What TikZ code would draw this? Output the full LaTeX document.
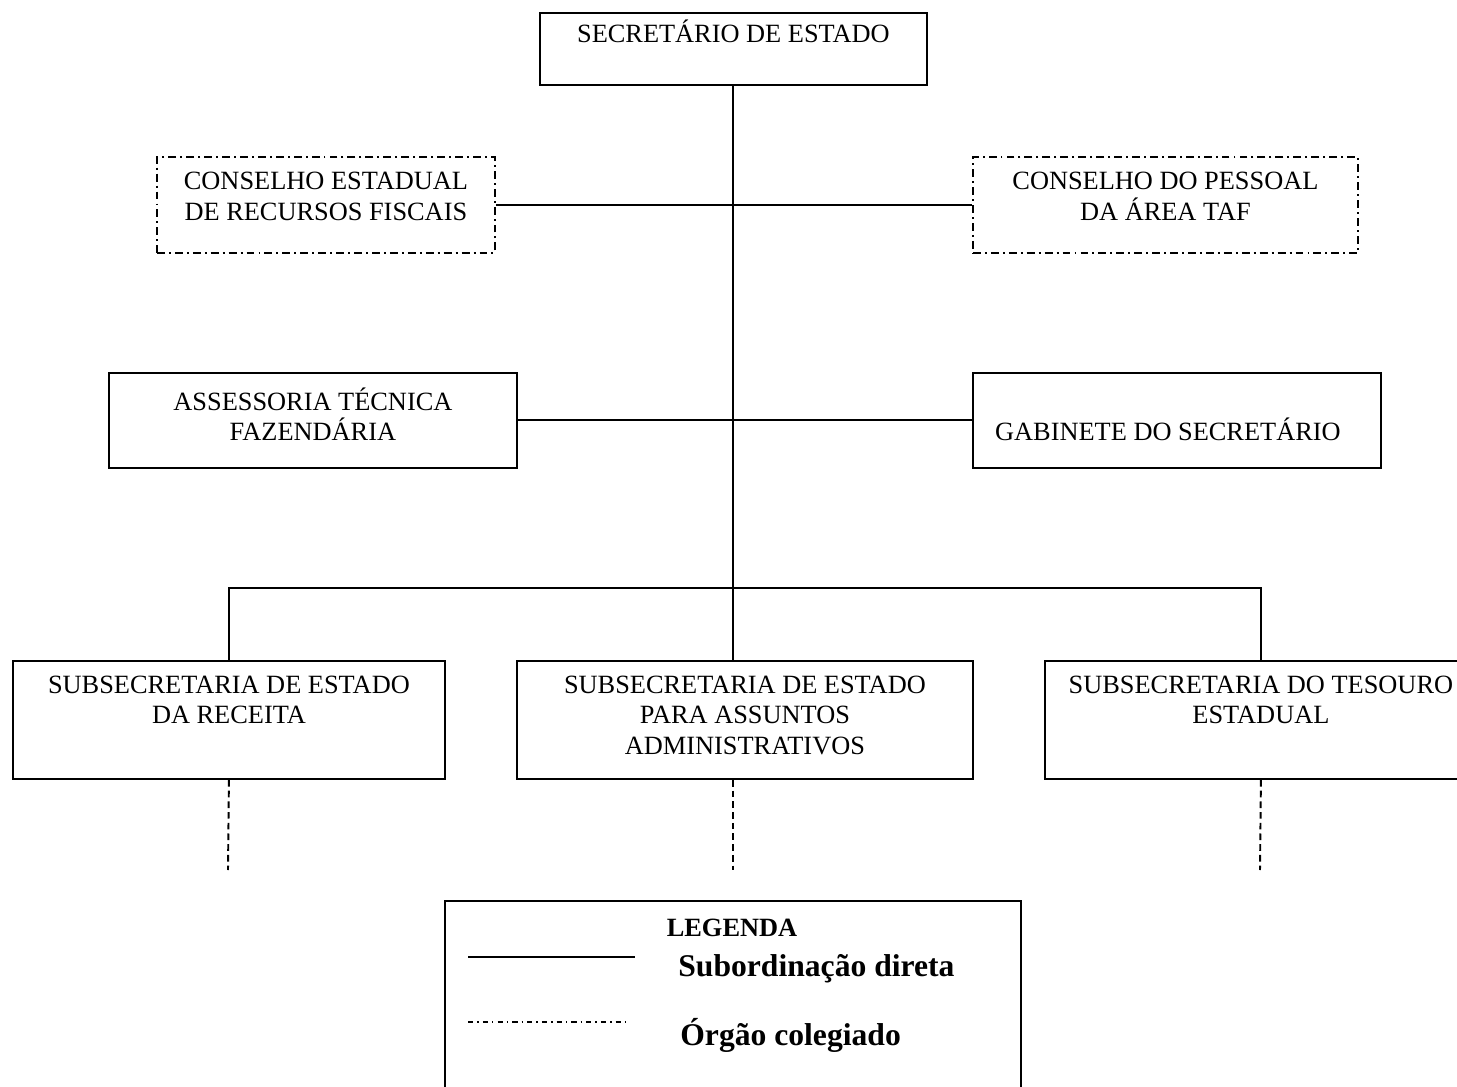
\documentclass[tikz,border=0pt]{standalone}
\usepackage{fontspec}
\setmainfont{Liberation Serif}
\usetikzlibrary{positioning}

\tikzset{
	unitbox/.style={draw, line width=1.1pt, inner sep=0pt, anchor=north west},
	colbox/.style={unitbox, dash pattern=on 4.5pt off 2.3pt on 1.1pt off 2.3pt},
	unittext/.style={align=center, inner sep=0pt, font=\fontsize{15}{17.4}\selectfont,
		execute at begin node={\rule{0pt}{14pt}}},
	sublink/.style={line width=1.1pt},
	downlink/.style={line width=1.1pt, dash pattern=on 3.8pt off 2.3pt}
}

\begin{document}
\begin{tikzpicture}[x=0.02cm, y=-0.02cm]

	\useasboundingbox (0,0) rectangle (1457,1087);

	% secretario
	\node[unitbox, minimum width=7.74cm, minimum height=1.44cm] (sec) at (539,12) {};
	\node[unittext, below=0.11cm of sec.north] (secT) {SECRETÁRIO DE ESTADO};

	% orgaos colegiados
	\node[colbox, minimum width=6.76cm, minimum height=1.92cm] (cer) at (156,156) {};
	\node[unittext, below=0.316cm of cer.north] (cerT) {CONSELHO ESTADUAL\\DE RECURSOS FISCAIS};

	\node[colbox, minimum width=7.70cm, minimum height=1.92cm] (cpa) at (972,156) {};
	\node[unittext, below=0.316cm of cpa.north] (cpaT) {CONSELHO DO PESSOAL\\DA ÁREA TAF};

	% assessoria e gabinete
	\node[unitbox, minimum width=8.16cm, minimum height=1.90cm] (atf) at (108,372) {};
	\node[unittext, below=0.306cm of atf.north] (atfT) {ASSESSORIA TÉCNICA\\FAZENDÁRIA};

	\node[unitbox, minimum width=8.16cm, minimum height=1.90cm] (gab) at (972,372) {};
	\node[unittext, below=0.866cm of gab.north, xshift=-0.18cm] (gabT) {GABINETE DO SECRETÁRIO};

	% subsecretarias
	\node[unitbox, minimum width=8.64cm, minimum height=2.36cm] (ser) at (12,660) {};
	\node[unittext, below=0.31cm of ser.north] (serT) {SUBSECRETARIA DE ESTADO\\DA RECEITA};

	\node[unitbox, minimum width=9.12cm, minimum height=2.36cm] (saa) at (516,660) {};
	\node[unittext, below=0.31cm of saa.north] (saaT) {SUBSECRETARIA DE ESTADO\\PARA ASSUNTOS\\ADMINISTRATIVOS};

	\node[unitbox, minimum width=8.64cm, minimum height=2.36cm] (ste) at (1044,660) {};
	\node[unittext, below=0.31cm of ste.north] (steT) {SUBSECRETARIA DO TESOURO\\ESTADUAL};

	% ligacoes
	\coordinate (br) at (733,588);
	\draw[sublink] (sec.south) -- (sec.south |- saa.north);
	\draw[sublink] (cer.east) -- (cpa.west);
	\draw[sublink] (atf.east) -- (gab.west);
	\draw[sublink] (ser.north) |- (br) -| (ste.north);

	\coordinate (serE) at (228,870);
	\coordinate (saaE) at (733,870);
	\coordinate (steE) at (1260,870);
	\draw[downlink] (ser.south) -- (serE);
	\draw[downlink] (saaE |- saa.south) -- (saaE);
	\draw[downlink] (ste.south) -- (steE);

	% legenda
	\node[unitbox, minimum width=11.52cm, minimum height=4.2cm] (leg) at (444,900) {};
	\node[anchor=base, inner sep=0pt, font=\fontsize{15}{18}\selectfont\bfseries] (legT) at (732,936) {LEGENDA};
	\node[anchor=base west, inner sep=0pt, font=\fontsize{18}{21}\selectfont\bfseries] (subT) at (678,976) {Subordinação direta};
	\node[anchor=base west, inner sep=0pt, font=\fontsize{18}{21}\selectfont\bfseries] (orgT) at (680,1045) {Órgão colegiado};

	\coordinate (subA) at (468,957);
	\coordinate (subB) at (635,957);
	\coordinate (orgA) at (468,1022);
	\coordinate (orgB) at (630,1022);
	\draw[line width=1.1pt] (subA) -- (subB);
	\draw[line width=0.8pt, dash pattern=on 3pt off 2.3pt on 0.8pt off 2.3pt] (orgA) -- (orgB);

\end{tikzpicture}
\end{document}
